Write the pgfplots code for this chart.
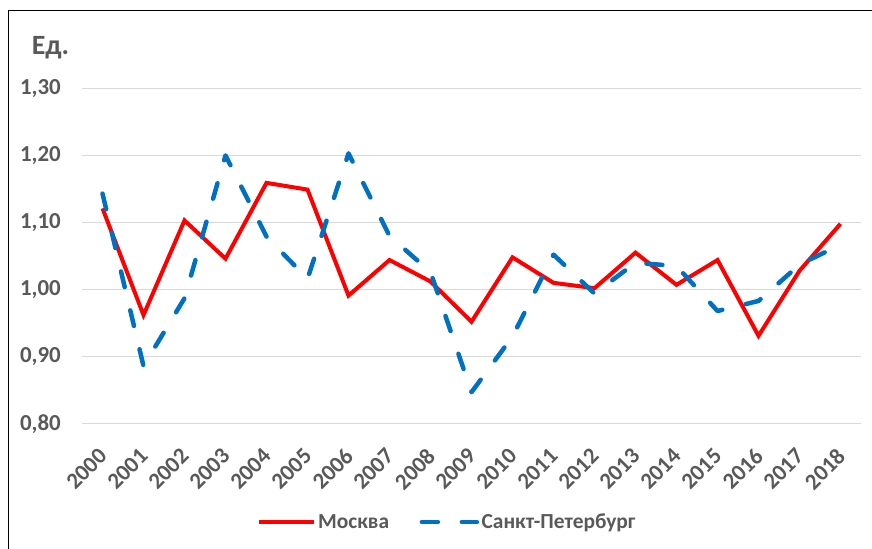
\documentclass[border=0pt]{standalone}
\usepackage{pgfplots}
\pgfplotsset{compat=1.18}
\usepackage{fontspec}
\setmainfont{Carlito}
\definecolor{txtgray}{HTML}{595959}
\definecolor{gridgray}{HTML}{D9D9D9}
\definecolor{mosred}{HTML}{FF0000}
\definecolor{spbblue}{HTML}{0070C0}
\begin{document}
\begin{tikzpicture}
\begin{axis}[
  at={(82bp,125.3bp)}, anchor=south west,
  scale only axis, width=779bp, height=335.4bp,
  xmin=1999.5, xmax=2018.5, ymin=0.8, ymax=1.3,
  axis line style={draw=none},
  ytick={0.8,0.9,1.0,1.1,1.2,1.3},
  xtick={2000,2001,...,2018},
  ymajorgrids, grid style={draw=gridgray, line width=1bp},
  major tick length=0pt,
  /pgf/number format/assume math mode=true,
  tick label style={font=\bfseries\fontsize{23}{27}\selectfont, text=txtgray},
  x tick label style={/pgf/number format/1000 sep={}, xshift=-5bp, yshift=-23bp, rotate=45, anchor=north east, inner sep=0pt},
  y tick label style={/pgf/number format/.cd, fixed, fixed zerofill, precision=2, use comma, /tikz/.cd, anchor=east, inner sep=0pt, xshift=-21bp},
  legend columns=2,
  legend style={at={(0.469,-0.293)}, anchor=center, draw=none, fill=none,
    font=\bfseries\fontsize{21.5}{25}\selectfont, text=txtgray,
    nodes={inner sep=2.5bp},
    /tikz/every even column/.append style={column sep=28bp}},
  legend image code/.code={\draw[#1] (0bp,0bp) -- (55bp,0bp);},
]
\addplot[mosred, line width=4bp, line join=miter] coordinates {
(2000,1.121) (2001,0.962) (2002,1.103) (2003,1.046) (2004,1.159) (2005,1.149)
(2006,0.991) (2007,1.044) (2008,1.012) (2009,0.952) (2010,1.048) (2011,1.010)
(2012,1.002) (2013,1.055) (2014,1.007) (2015,1.044) (2016,0.931) (2017,1.028)
(2018,1.098)};
\addlegendentry{Москва}
\addplot[spbblue, line width=4.5bp, line cap=round, line join=round, dash pattern=on 16bp off 24bp] coordinates {
(2000,1.143) (2001,0.886) (2002,0.987) (2003,1.200) (2004,1.079) (2005,1.016)
(2006,1.203) (2007,1.080) (2008,1.026) (2009,0.847) (2010,0.930) (2011,1.052)
(2012,0.994) (2013,1.040) (2014,1.035) (2015,0.968) (2016,0.983) (2017,1.037)
(2018,1.067)};
\addlegendentry{Санкт-Петербург}
\end{axis}
\node[font=\bfseries\fontsize{28}{33}\selectfont, text=txtgray, inner sep=0pt] at (50.5bp,501bp) {Ед.};
\draw[black, line width=1bp] (8.3bp,-2bp) -- (8.3bp,538bp) -- (875bp,538bp);
\pgfresetboundingbox
\path[use as bounding box] (0,0) rectangle (872bp,549bp);
\end{tikzpicture}
\end{document}
